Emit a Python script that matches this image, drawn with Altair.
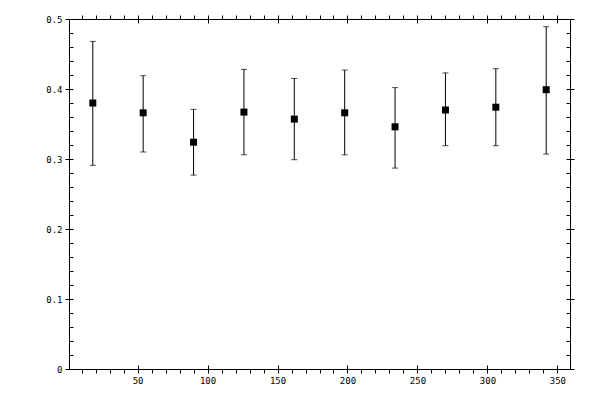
import altair as alt
import pandas as pd

# data
x_vals = [18, 54, 90, 126, 162, 198, 234, 270, 306, 342]
y_vals = [0.380, 0.366, 0.324, 0.367, 0.357, 0.366, 0.346, 0.370, 0.374, 0.399]
y_low = [0.291, 0.310, 0.277, 0.306, 0.299, 0.306, 0.287, 0.319, 0.319, 0.307]
y_high = [0.468, 0.419, 0.371, 0.428, 0.415, 0.427, 0.402, 0.423, 0.429, 0.489]

x_all_ticks = list(range(10, 360, 10))
x_major_ticks = [50, 100, 150, 200, 250, 300, 350]
y_major_ticks = [0, 0.1, 0.2, 0.3, 0.4, 0.5]
y_all_ticks = [round(i * 0.02, 2) for i in range(0, 26)]

df = pd.DataFrame({"x": x_vals, "y": y_vals, "lo": y_low, "hi": y_high})

FONT = "DejaVu Sans Mono"
xscale = alt.Scale(domain=[1, 359], nice=False, zero=False)
yscale = alt.Scale(domain=[0, 0.5], nice=False, zero=False)


def ax(orient, values, offset=0, labels=False, domain=False, **kw):
    return alt.Axis(
        orient=orient, values=values, offset=offset, labels=labels, domain=domain,
        title=None, grid=False, tickSize=4, tickWidth=1, tickColor="black",
        domainColor="black", domainWidth=1, labelFont=FONT, labelFontSize=9,
        labelColor="black", labelOverlap=False, labelFlush=False, **kw
    )


base = alt.Chart(df)

bars = base.mark_rule(color="black", strokeWidth=1).encode(
    x=alt.X("x:Q", scale=xscale,
            axis=ax("bottom", x_all_ticks, labels=True, domain=True, labelPadding=3,
                    labelExpr="datum.value % 50 === 0 ? datum.label : ''")),
    y=alt.Y("lo:Q", scale=yscale,
            axis=ax("left", y_major_ticks, labels=True, domain=True, labelPadding=3,
                    format=".1~f")),
    y2="hi:Q",
)

cap_top = base.mark_tick(color="black", orient="horizontal", size=6, thickness=1).encode(
    x=alt.X("x:Q", scale=xscale, axis=ax("bottom", x_major_ticks, offset=-4)),
    y=alt.Y("hi:Q", scale=yscale, axis=ax("left", y_all_ticks, offset=-4)),
)

cap_bot = base.mark_tick(color="black", orient="horizontal", size=6, thickness=1).encode(
    x=alt.X("x:Q", scale=xscale, axis=ax("top", x_all_ticks, domain=True)),
    y=alt.Y("lo:Q", scale=yscale, axis=ax("right", y_major_ticks, domain=True)),
)

points = base.mark_square(color="black", size=49, opacity=1).encode(
    x=alt.X("x:Q", scale=xscale, axis=ax("top", x_major_ticks, offset=-4)),
    y=alt.Y("y:Q", scale=yscale, axis=ax("right", y_all_ticks, offset=-4)),
)

chart = (
    alt.layer(bars, cap_top, cap_bot, points)
    .resolve_axis(x="independent", y="independent")
    .properties(
        width=501, height=350,
        autosize=alt.AutoSizeParams(type="none"),
        padding={"left": 61, "top": 11, "right": 22, "bottom": 23},
        background="white",
    )
    .configure_view(stroke=None)
)

chart.save("out.html", embed_options={"renderer": "svg", "actions": False})
